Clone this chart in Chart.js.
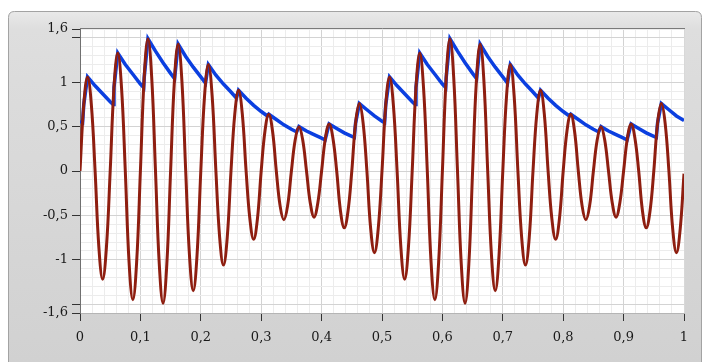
<!DOCTYPE html>
<html>
<head>
<meta charset="utf-8">
<script src="https://cdn.jsdelivr.net/npm/chart.js@4.4.1/dist/chart.umd.min.js"></script>
<style>
  html, body { margin: 0; padding: 0; background: #ffffff; }
  #wrap { width: 704px; height: 362px; }
</style>
</head>
<body>
<div id="wrap"><canvas id="c" width="704" height="362"></canvas></div>
<script>
// ---------- data ----------
// red signal, sampled every 1/8 of its 0.05 s period, starting at t = 0
const redDt = 0.00625;
const redValues = [
  0, 0.75, 1.06, 0.75, 0, -0.86, -1.22, -0.86,
  0, 0.94, 1.33, 0.94, 0, -1.03, -1.45, -1.03,
  0, 1.05, 1.49, 1.05, 0, -1.05, -1.49, -1.05,
  0, 1.01, 1.43, 1.01, 0, -0.95, -1.35, -0.95,
  0, 0.85, 1.20, 0.85, 0, -0.75, -1.06, -0.75,
  0, 0.64, 0.91, 0.64, 0, -0.54, -0.77, -0.54,
  0, 0.45, 0.64, 0.45, 0, -0.39, -0.55, -0.39,
  0, 0.35, 0.50, 0.35, 0, -0.36, -0.52, -0.36,
  0, 0.37, 0.53, 0.37, 0, -0.45, -0.64, -0.45,
  0, 0.54, 0.76, 0.54, 0, -0.65, -0.92, -0.65,
  0, 0.75, 1.06, 0.75, 0, -0.86, -1.22, -0.86,
  0, 0.94, 1.33, 0.94, 0, -1.03, -1.45, -1.03,
  0, 1.05, 1.49, 1.05, 0, -1.05, -1.49, -1.05,
  0, 1.01, 1.43, 1.01, 0, -0.95, -1.35, -0.95,
  0, 0.85, 1.20, 0.85, 0, -0.75, -1.06, -0.75,
  0, 0.64, 0.91, 0.64, 0, -0.54, -0.77, -0.54,
  0, 0.45, 0.64, 0.45, 0, -0.39, -0.55, -0.39,
  0, 0.35, 0.50, 0.35, 0, -0.36, -0.52, -0.36,
  0, 0.37, 0.53, 0.37, 0, -0.45, -0.64, -0.45,
  0, 0.54, 0.76, 0.54, 0, -0.65, -0.92, -0.65,
  -0.03
];

// blue peak envelope (time, value)
const blueTimes = [
  0, 0.0043, 0.00625, 0.0125, 0.025, 0.0375, 0.05, 0.0548, 0.05625, 0.0625,
  0.075, 0.0875, 0.1, 0.1055, 0.10625, 0.1125, 0.125, 0.1375, 0.15, 0.1566,
  0.1625, 0.175, 0.1875, 0.2, 0.2078, 0.2125, 0.225, 0.2375, 0.25, 0.259,
  0.2625, 0.275, 0.2875, 0.3, 0.3103, 0.3125, 0.325, 0.3375, 0.35, 0.3587,
  0.3625, 0.375, 0.3875, 0.4, 0.4058, 0.4125, 0.425, 0.4375, 0.45, 0.4542,
  0.45625, 0.4625, 0.475, 0.4875, 0.5,
  0.5043, 0.50625, 0.5125, 0.525, 0.5375, 0.55, 0.5548, 0.55625, 0.5625,
  0.575, 0.5875, 0.6, 0.6055, 0.60625, 0.6125, 0.625, 0.6375, 0.65, 0.6566,
  0.6625, 0.675, 0.6875, 0.7, 0.7078, 0.7125, 0.725, 0.7375, 0.75, 0.759,
  0.7625, 0.775, 0.7875, 0.8, 0.8103, 0.8125, 0.825, 0.8375, 0.85, 0.8587,
  0.8625, 0.875, 0.8875, 0.9, 0.9058, 0.9125, 0.925, 0.9375, 0.95, 0.9542,
  0.95625, 0.9625, 0.975, 0.9875, 1
];
const blueValues = [
  0.56, 0.545, 0.75, 1.06, 0.96, 0.87, 0.78, 0.75, 0.94, 1.33,
  1.20, 1.09, 0.98, 0.94, 1.05, 1.49, 1.35, 1.22, 1.10, 1.04,
  1.43, 1.29, 1.17, 1.06, 0.99, 1.20, 1.08, 0.98, 0.89, 0.82,
  0.91, 0.82, 0.74, 0.67, 0.62, 0.64, 0.58, 0.52, 0.47, 0.44,
  0.50, 0.45, 0.41, 0.37, 0.35, 0.53, 0.48, 0.43, 0.39, 0.38,
  0.54, 0.76, 0.69, 0.62, 0.56,
  0.545, 0.75, 1.06, 0.96, 0.87, 0.78, 0.75, 0.94, 1.33,
  1.20, 1.09, 0.98, 0.94, 1.05, 1.49, 1.35, 1.22, 1.10, 1.04,
  1.43, 1.29, 1.17, 1.06, 0.99, 1.20, 1.08, 0.98, 0.89, 0.82,
  0.91, 0.82, 0.74, 0.67, 0.62, 0.64, 0.58, 0.52, 0.47, 0.44,
  0.50, 0.45, 0.41, 0.37, 0.35, 0.53, 0.48, 0.43, 0.39, 0.38,
  0.54, 0.76, 0.69, 0.62, 0.57
];

// axis ticks and labels
const xLabelValues = [0, 0.1, 0.2, 0.3, 0.4, 0.5, 0.6, 0.7, 0.8, 0.9, 1];
const xTickLabels  = ['0', '0,1', '0,2', '0,3', '0,4', '0,5', '0,6', '0,7', '0,8', '0,9', '1'];
const yLabelValues = [1.6, 1, 0.5, 0, -0.5, -1, -1.6];
const yTickLabels  = ['1,6', '1', '0,5', '0', '-0,5', '-1', '-1,6'];
const yMarkOnly    = [1.5, -1.5];
const xMinorStep = 0.02;
const yMinorStep = 0.1;

// ---------- build ----------
const redPoints = redValues.map((v, i) => ({ x: i * redDt, y: v }));
const bluePoints = blueTimes.map((t, i) => ({ x: t, y: blueValues[i] }));

const near = (a, b) => Math.abs(a - b) < 1e-6;
const isMult = (v, s) => Math.abs(v / s - Math.round(v / s)) < 1e-6;

function gridTicks(min, max, step) {
  const n = Math.round((max - min) / step);
  const out = [];
  for (let i = 0; i <= n; i++) out.push({ value: Math.round((min + i * step) * 1000) / 1000 });
  return out;
}

const panelPlugin = {
  id: 'panel',
  beforeDraw(chart) {
    const c = chart.ctx;
    const a = chart.chartArea;
    c.save();
    c.fillStyle = '#ffffff';
    c.fillRect(0, 0, chart.width, chart.height);
    const x0 = 8.5, y0 = 11.5, x1 = 701.5, y1 = 380, r = 6;
    c.beginPath();
    c.moveTo(x0 + r, y0);
    c.lineTo(x1 - r, y0);
    c.quadraticCurveTo(x1, y0, x1, y0 + r);
    c.lineTo(x1, y1);
    c.lineTo(x0, y1);
    c.lineTo(x0, y0 + r);
    c.quadraticCurveTo(x0, y0, x0 + r, y0);
    c.closePath();
    const g = c.createLinearGradient(0, y0, 0, 362);
    g.addColorStop(0, '#e9e9e9');
    g.addColorStop(0.05, '#dedede');
    g.addColorStop(1, '#d1d1d1');
    c.fillStyle = g;
    c.fill();
    c.strokeStyle = '#a3a3a3';
    c.lineWidth = 1;
    c.stroke();
    c.fillStyle = '#ffffff';
    c.fillRect(a.left, a.top, a.right - a.left, a.bottom - a.top);
    c.restore();
  },
  beforeDatasetsDraw(chart) {
    const c = chart.ctx;
    const a = chart.chartArea;
    c.save();
    c.lineWidth = 1;
    c.strokeStyle = '#7a7a7a';
    c.beginPath();
    c.moveTo(a.left, Math.round(a.top) - 0.5);
    c.lineTo(a.right + 1, Math.round(a.top) - 0.5);
    c.stroke();
    c.strokeStyle = '#d8d8d8';
    c.beginPath();
    c.moveTo(Math.round(a.right) + 0.5, a.top);
    c.lineTo(Math.round(a.right) + 0.5, a.bottom);
    c.stroke();
    c.restore();
  }
};

const tickFont = { family: 'DejaVu Serif', size: 13 };

new Chart(document.getElementById('c'), {
  type: 'line',
  data: {
    datasets: [
      {
        label: 'signal',
        data: redPoints,
        borderColor: '#8e1e10',
        borderWidth: 3,
        pointRadius: 0,
        tension: 0.4,
        fill: false
      },
      {
        label: 'envelope',
        data: bluePoints,
        borderColor: '#0b3fe0',
        borderWidth: 3.5,
        pointRadius: 0,
        tension: 0,
        fill: false
      }
    ]
  },
  plugins: [panelPlugin],
  options: {
    responsive: false,
    animation: false,
    devicePixelRatio: 1,
    layout: { padding: { top: 29, right: 20, left: 0, bottom: 0 } },
    plugins: { legend: { display: false }, tooltip: { enabled: false } },
    scales: {
      x: {
        type: 'linear',
        min: 0,
        max: 1,
        afterBuildTicks: s => { s.ticks = gridTicks(0, 1, xMinorStep); },
        afterFit: s => { s.height = 49; },
        ticks: {
          autoSkip: false,
          maxRotation: 0,
          padding: 9,
          color: '#1a1a1a',
          font: tickFont,
          callback: v => {
            const i = xLabelValues.findIndex(q => near(q, v));
            return i >= 0 ? xTickLabels[i] : '';
          }
        },
        grid: {
          color: ctx => isMult(ctx.tick.value, 0.1) ? '#d3d3d3' : '#ececec',
          tickColor: ctx => isMult(ctx.tick.value, 0.1) ? '#333' : 'rgba(0,0,0,0)',
          tickLength: 8,
          lineWidth: 1
        },
        border: { display: true, color: '#b5b5b5' }
      },
      y: {
        type: 'linear',
        min: -1.6,
        max: 1.6,
        afterBuildTicks: s => { s.ticks = gridTicks(-1.6, 1.6, yMinorStep); },
        afterFit: s => { s.width = 80; },
        ticks: {
          autoSkip: false,
          padding: 4,
          color: '#1a1a1a',
          font: tickFont,
          callback: v => {
            const i = yLabelValues.findIndex(q => near(q, v));
            return i >= 0 ? yTickLabels[i] : '';
          }
        },
        grid: {
          color: ctx => isMult(ctx.tick.value, 0.5) ? '#d3d3d3' : '#ececec',
          tickColor: ctx => {
            const v = ctx.tick.value;
            return (yLabelValues.some(q => near(q, v)) || yMarkOnly.some(q => near(q, v))) ? '#333' : 'rgba(0,0,0,0)';
          },
          tickLength: 8,
          lineWidth: 1
        },
        border: { display: true, color: '#707070' }
      }
    }
  }
});
</script>
</body>
</html>
